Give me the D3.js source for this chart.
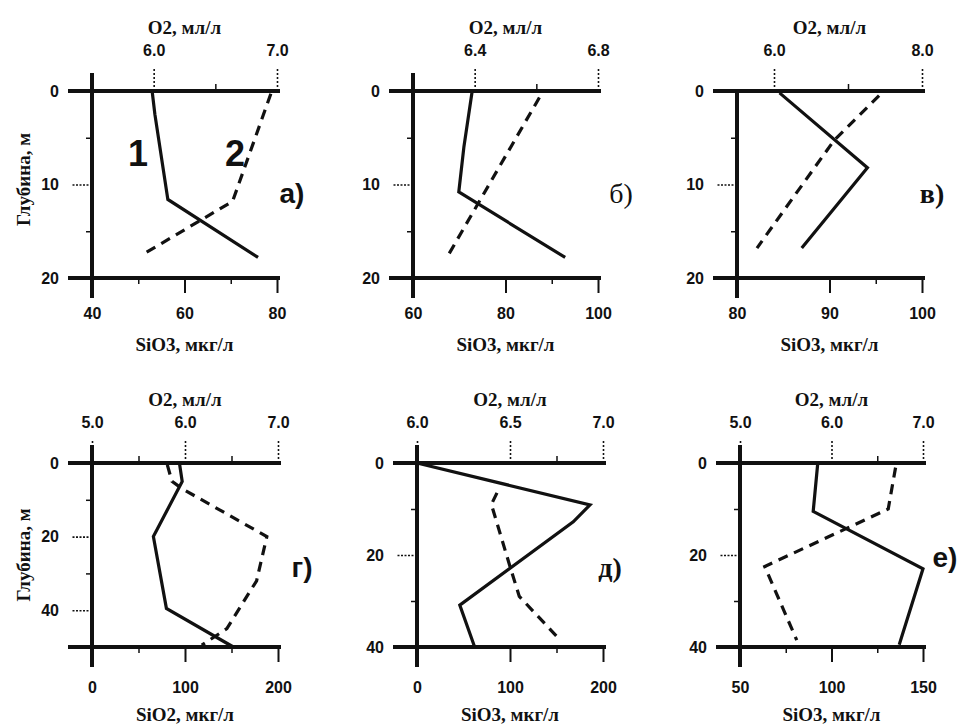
<!doctype html>
<html lang="ru">
<head>
<meta charset="utf-8">
<title>Вертикальные профили O2 и SiO3</title>
<script src="https://cdn.jsdelivr.net/npm/d3@7"></script>
<style>
  html, body { margin: 0; background: #fff; }
  svg { display: block; }
  .tick text { font-family: "Liberation Sans", Arial, sans-serif; font-weight: bold; font-size: 16px; fill: #111; }
  .title { font-family: "Liberation Serif", "Times New Roman", serif; font-size: 19px; font-weight: bold; fill: #111; }
  .letter { font-size: 28px; fill: #111; }
</style>
</head>
<body>
<svg id="chart" width="957" height="724"></svg>
<script>
// panel captions
const panelLetters = ["а)", "б)", "в)", "г)", "д)", "е)"];
const bottomTitles = ["SiO3, мкг/л", "SiO3, мкг/л", "SiO3, мкг/л", "SiO2, мкг/л", "SiO3, мкг/л", "SiO3, мкг/л"];

// axes (top = O2, bottom = SiO3, left = depth)
const o2Domains = [[5.5, 7.0], [6.2, 6.8], [5.5, 8.0], [5.0, 7.0], [6.0, 7.0], [5.0, 7.0]];
const o2Ticks = [[6.0, 7.0], [6.4, 6.8], [6.0, 8.0], [5.0, 6.0, 7.0], [6.0, 6.5, 7.0], [5.0, 6.0, 7.0]];
const o2Minor = [[6.5], [6.6], [7.0], [5.5, 6.5], [6.75], [6.5]];
const siDomains = [[40, 80], [60, 100], [80, 100], [0, 200], [0, 200], [50, 150]];
const siTicks = [[40, 60, 80], [60, 80, 100], [80, 90, 100], [0, 100, 200], [0, 100, 200], [50, 100, 150]];
const siMinor = [[50, 70], [90], [95], [50, 150], [150], [75, 125]];
const depthDomains = [[0, 20], [0, 20], [0, 20], [0, 50], [0, 40], [0, 40]];
const depthTicks = [[0, 10, 20], [0, 10, 20], [0, 10, 20], [0, 20, 40], [0, 20, 40], [0, 20, 40]];
const depthMinor = [[5, 15], [5, 15], [5, 15], [10, 30], [10, 30], [10, 30]];

// curve 1 (solid) - SiO3, curve 2 (dashed) - O2
const sio3Depth = [[0, 2.5, 11.6, 17.8], [0, 6, 10.8, 17.8], [0.2, 8.2, 16.8], [0, 5, 20, 39.5, 50], [0, 9.1, 12.8, 30.9, 40], [0, 10.5, 23, 39.5]];
const sio3Value = [[53, 53.6, 56.4, 75.9], [72.8, 71, 69.9, 92.9], [84.6, 94.1, 87.0], [94, 97, 66, 80, 152], [0, 186, 168, 46, 62], [92.5, 90, 150, 137]];
const o2Depth = [[0.3, 11.8, 17.5], [0.7, 17.8], [0.5, 5.3, 16.8], [0.5, 5, 7, 20, 32, 45, 49.5], [6.5, 9, 22.5, 29, 38.5], [1, 10, 22.5, 38.5]];
const o2Value = [[6.95, 6.64, 5.91], [6.61, 6.31], [7.42, 6.81, 5.77], [5.81, 5.86, 5.97, 6.88, 6.77, 6.45, 6.18], [6.43, 6.40, 6.5, 6.55, 6.77], [6.7, 6.62, 5.27, 5.62]];

// layout
const panelLeft = [92, 413, 737, 92, 417, 740];
const panelRight = [277, 598, 922, 278, 603, 923];
const rowTop = [91, 463];
const rowBottom = [278, 647];
const letterPos = [[292, 193], [621, 193], [932, 193], [302, 567], [610, 567], [945, 557]];
const letterFont = ["Liberation Sans", "Liberation Serif", "Liberation Serif", "Liberation Sans", "Liberation Serif", "Liberation Sans"];
const letterWeight = ["bold", "normal", "bold", "bold", "bold", "bold"];

const svg = d3.select("#chart");
const ink = "#111";
const fmt1 = d3.format(".1f");

panelLetters.forEach((letter, i) => {
  const row = i < 3 ? 0 : 1;
  const x0 = panelLeft[i], x1 = panelRight[i];
  const y0 = rowTop[row], y1 = rowBottom[row];

  const x = d3.scaleLinear().domain(siDomains[i]).range([x0, x1]);
  const xo = d3.scaleLinear().domain(o2Domains[i]).range([x0, x1]);
  const y = d3.scaleLinear().domain(depthDomains[i]).range([y0, y1]);

  const g = svg.append("g");

  // top axis: O2
  const top = g.append("g").attr("transform", `translate(0,${y0})`)
      .call(d3.axisTop(xo).tickValues(o2Ticks[i]).tickSize(22).tickPadding(13).tickFormat(fmt1));
  top.select(".domain").remove();
  top.selectAll(".tick line").attr("stroke", ink).attr("stroke-width", 1.6).attr("stroke-dasharray", "2,2");
  const topMinor = g.append("g").attr("transform", `translate(0,${y0})`)
      .call(d3.axisTop(xo).tickValues(o2Minor[i]).tickSize(7).tickFormat(""));
  topMinor.select(".domain").remove();
  topMinor.selectAll(".tick line").attr("stroke", ink).attr("stroke-width", 1.5);

  // bottom axis: SiO3
  const bottom = g.append("g").attr("transform", `translate(0,${y1})`)
      .call(d3.axisBottom(x).tickValues(siTicks[i]).tickSize(15).tickPadding(row === 0 ? 15 : 20));
  bottom.select(".domain").remove();
  bottom.selectAll(".tick line").attr("stroke", ink).attr("stroke-width", 2);
  const bottomMinor = g.append("g").attr("transform", `translate(0,${y1})`)
      .call(d3.axisBottom(x).tickValues(siMinor[i]).tickSize(6).tickFormat(""));
  bottomMinor.select(".domain").remove();
  bottomMinor.selectAll(".tick line").attr("stroke", ink).attr("stroke-width", 1.5);

  // left axis: depth
  const left = g.append("g").attr("transform", `translate(${x0},0)`)
      .call(d3.axisLeft(y).tickValues(depthTicks[i]).tickSize(20).tickPadding(13));
  left.select(".domain").remove();
  left.selectAll(".tick line").attr("stroke", ink).attr("stroke-width", 1.6).attr("stroke-dasharray", "2,1.5");
  const leftMinor = g.append("g").attr("transform", `translate(${x0},0)`)
      .call(d3.axisLeft(y).tickValues(depthMinor[i]).tickSize(6).tickFormat(""));
  leftMinor.select(".domain").remove();
  leftMinor.selectAll(".tick line").attr("stroke", ink).attr("stroke-width", 1.5);

  // frame: surface and bottom lines, vertical axis
  const d = depthDomains[i];
  g.selectAll("line.hline").data([d[0], d[1]]).join("line")
      .attr("class", "hline")
      .attr("x1", x0 - 24).attr("x2", x1 + 3)
      .attr("y1", v => y(v)).attr("y2", v => y(v))
      .attr("stroke", ink).attr("stroke-width", 3.8);
  g.append("line")
      .attr("x1", x0).attr("x2", x0)
      .attr("y1", y(d[0]) - (i === 2 ? 0 : 18)).attr("y2", y(d[1]) + 20)
      .attr("stroke", ink).attr("stroke-width", 4);

  // curves
  const siPts = sio3Depth[i].map((dep, k) => [x(sio3Value[i][k]), y(dep)]);
  const o2Pts = o2Depth[i].map((dep, k) => [xo(o2Value[i][k]), y(dep)]);
  const line = d3.line();
  g.append("path").attr("d", line(siPts))
      .attr("fill", "none").attr("stroke", ink).attr("stroke-width", 3.2)
      .attr("stroke-linejoin", "miter");
  g.append("path").attr("d", line(o2Pts))
      .attr("fill", "none").attr("stroke", ink).attr("stroke-width", 3.2)
      .attr("stroke-dasharray", "10,7");

  // titles
  const cx = (x0 + x1) / 2;
  g.append("text").attr("class", "title")
      .attr("x", cx).attr("y", y0 - 64)
      .attr("text-anchor", "middle").attr("dominant-baseline", "central")
      .text("O2, мл/л");
  g.append("text").attr("class", "title")
      .attr("x", cx).attr("y", row === 0 ? y1 + 66 : y1 + 67)
      .attr("text-anchor", "middle").attr("dominant-baseline", "central")
      .text(bottomTitles[i]);

  if (i === 0 || i === 3) {
    g.append("text").attr("class", "title")
        .attr("transform", `translate(23,${(y0 + y1) / 2 + (row === 0 ? -5 : 0)}) rotate(-90)`)
        .attr("text-anchor", "middle").attr("dominant-baseline", "central")
        .text("Глубина, м");
  }

  g.append("text").attr("class", "letter")
      .attr("x", letterPos[i][0]).attr("y", letterPos[i][1])
      .attr("text-anchor", "middle").attr("dominant-baseline", "central")
      .attr("font-family", letterFont[i]).attr("font-weight", letterWeight[i])
      .text(letter);
});

// curve numbers in panel а
svg.append("text")
    .attr("x", 138).attr("y", 153)
    .attr("text-anchor", "middle").attr("dominant-baseline", "central")
    .attr("font-family", "Liberation Sans").attr("font-weight", "bold").attr("font-size", 36).attr("fill", ink)
    .text("1");
svg.append("text")
    .attr("x", 235).attr("y", 153)
    .attr("text-anchor", "middle").attr("dominant-baseline", "central")
    .attr("font-family", "Liberation Sans").attr("font-weight", "bold").attr("font-size", 36).attr("fill", ink)
    .text("2");
</script>
</body>
</html>
